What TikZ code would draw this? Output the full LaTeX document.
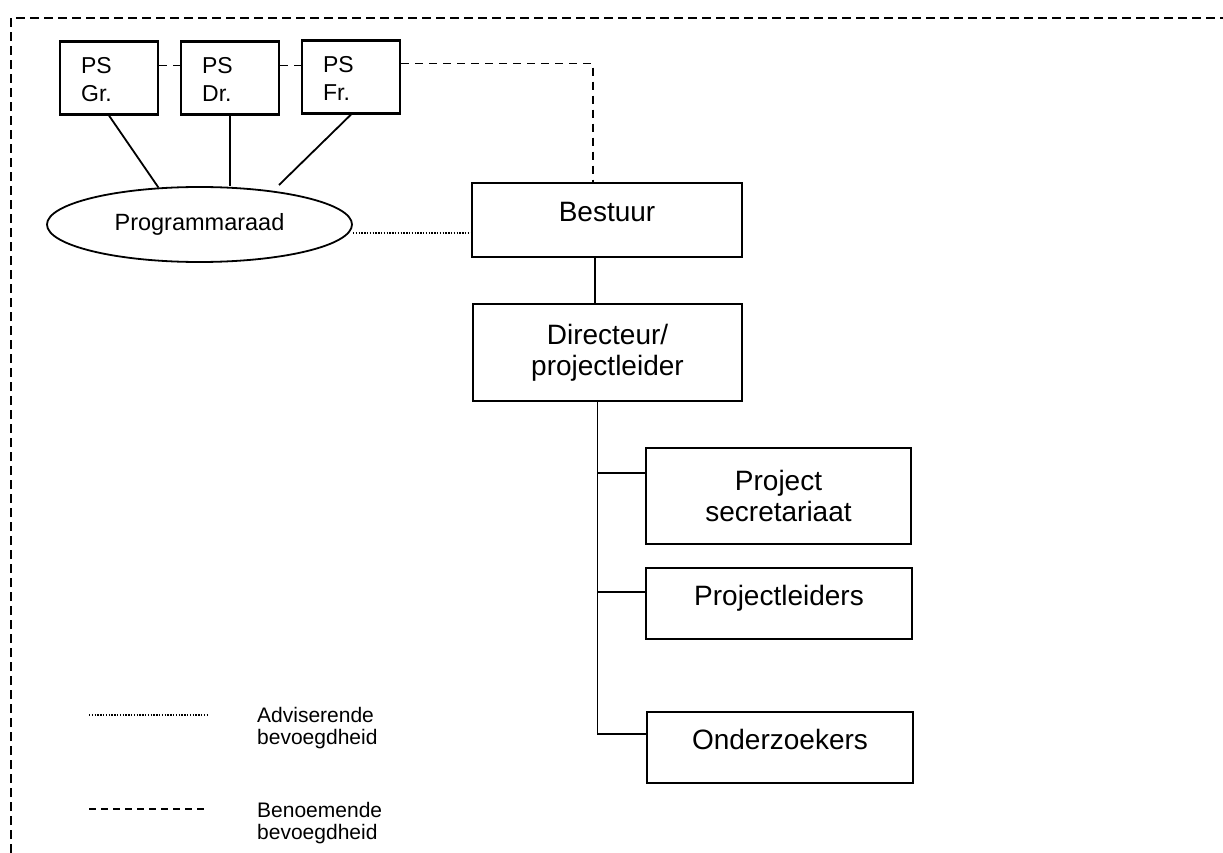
\documentclass[tikz,border=0pt]{standalone}
\usepackage{fontspec}
\setmainfont{Liberation Sans}
\usetikzlibrary{shapes.geometric}
\tikzset{
  box/.style={draw, line width=2.1pt, rectangle, inner sep=0pt},
  psbox/.style={box, minimum width=98pt, minimum height=73pt},
  bigtext/.style={font=\fontsize{28}{31}\selectfont, align=center},
  pstext/.style={font=\fontsize{23}{28}\selectfont, align=left, inner sep=0pt, anchor=north west},
  legtext/.style={font=\fontsize{21}{22}\selectfont, align=left, inner sep=0pt, anchor=north west},
  conn/.style={line width=1.8pt},
  benoem/.style={line width=1.8pt, dash pattern=on 8pt off 6pt},
  advis/.style={line width=1.3pt, dash pattern=on 1.4pt off 1.4pt},
  border/.style={line width=2pt, dash pattern=on 9pt off 5pt},
  legdash/.style={line width=1.8pt, dash pattern=on 7pt off 5pt}
}
\begin{document}
\begin{tikzpicture}[x=1pt,y=-1pt]
\useasboundingbox (0,0) rectangle (1223,853);
\fill[white] (0,0) rectangle (1223,853);

% outer frame
\draw[border] (11,853) -- (11,18) -- (1223,18);

% PS boxes
\node[psbox] (psgr) at (109,78) {};
\node[psbox] (psdr) at (230,78) {};
\node[psbox] (psfr) at (351,77) {};
\node[pstext] (tgr) at ([xshift=22pt,yshift=-17pt]psgr.north west) {PS\\Gr.};
\node[pstext] (tdr) at ([xshift=22pt,yshift=-17pt]psdr.north west) {PS\\Dr.};
\node[pstext] (tfr) at ([xshift=22pt,yshift=-17pt]psfr.north west) {PS\\Fr.};

% Programmaraad
\node[draw, ellipse, line width=1.8pt, minimum width=305pt, minimum height=75pt, inner sep=0pt,
      font=\fontsize{23.5}{28}\selectfont] (prog) at (199.5,224.5) {Programmaraad};

% Bestuur and Directeur
\node[box, bigtext, minimum width=270pt, text height=39pt, text depth=35pt] (bestuur) at (607,220) {Bestuur};
\node[box, bigtext, minimum width=269pt, minimum height=97pt] (dir) at (607.5,352.5) {Directeur/\\projectleider};

% sub boxes
\node[box, bigtext, minimum width=265pt, minimum height=96pt] (projsec) at (778.5,496) {Project\\secretariaat};
\node[box, bigtext, minimum width=266pt, text height=37pt, text depth=34pt] (projl) at (779,603.5) {Projectleiders};
\node[box, bigtext, minimum width=266pt, text height=37pt, text depth=34pt] (onderz) at (780,747.5) {Onderzoekers};

% benoemende (dashed) links
\draw[benoem] ([yshift=12.5pt]psgr.east) -- ([yshift=12.5pt]psgr.east -| psdr.west);
\draw[benoem] ([yshift=12.5pt]psdr.east) -- ([yshift=12.5pt]psdr.east -| psfr.west);
\coordinate (bt) at ([xshift=-14pt]bestuur.north);
\draw[benoem] ([yshift=13.5pt]psfr.east) -| (bt);

% PS to Programmaraad
\draw[conn] (psgr.south) -- (prog.138);
\draw[conn] (psdr.south) -- (psdr.south |- prog.north);
\coordinate (frend) at (279,185);
\draw[conn] (psfr.south) -- (frend);

% adviserende (dotted)
\coordinate (pe) at ([yshift=-8.5pt]prog.east);
\draw[advis] (pe) -- (pe -| bestuur.west);

% Bestuur to Directeur
\coordinate (bs) at ([xshift=-12pt]bestuur.south);
\draw[conn] (bs) -- (bs |- dir.north);

% trunk and branches
\coordinate (trunk) at ([xshift=-10pt]dir.south);
\coordinate (b1) at ([yshift=23pt]projsec.west);
\coordinate (b2) at ([yshift=11.5pt]projl.west);
\coordinate (b3) at ([yshift=13.5pt]onderz.west);
\draw[conn] (trunk) |- (b3);
\draw[conn] (b1) -- (b1 -| trunk);
\draw[conn] (b2) -- (b2 -| trunk);

% legend
\coordinate (la1) at (89,715);
\coordinate (la2) at (208,715);
\coordinate (lb1) at (89,809);
\coordinate (lb2) at (208,809);
\draw[advis] (la1) -- (la2);
\draw[legdash] (lb1) -- (lb2);
\node[legtext] (ladv) at (257,707) {Adviserende\\bevoegdheid};
\node[legtext] (lben) at (257,802) {Benoemende\\bevoegdheid};
\end{tikzpicture}
\end{document}
